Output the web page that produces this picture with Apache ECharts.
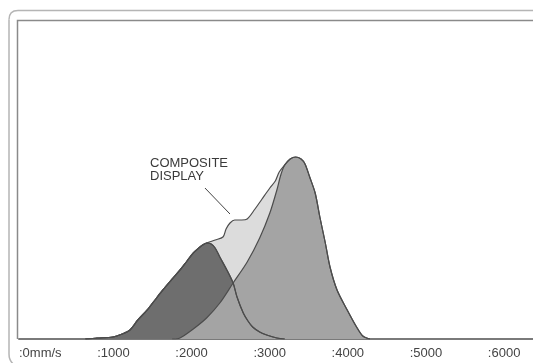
<!DOCTYPE html>
<html>
<head>
<meta charset="utf-8">
<script src="https://cdn.jsdelivr.net/npm/echarts@6/dist/echarts.min.js"></script>
<style>
html,body{margin:0;padding:0;background:#fff;overflow:hidden;}
#c{width:533px;height:363px;}
</style>
</head>
<body>
<div id="c"></div>
<script>
// Velocity (mm/s) tick labels
var tickLabels = [':0mm/s', ':1000', ':2000', ':3000', ':4000', ':5000', ':6000', ':7000'];

// Left (dark) distribution
var leftX = [850, 1000, 1200, 1320, 1420, 1520, 1640, 1740, 1840, 1960, 2060, 2150, 2230, 2300, 2350, 2400, 2460, 2510, 2570, 2660, 2740, 2790, 2870, 2930, 2990, 3080, 3170, 3300, 3400];
var leftY = [0, 1, 2, 5, 9, 19, 29, 39, 49, 60, 69, 78, 86, 91, 94, 96, 95, 91, 82, 69, 56, 42, 26, 18, 12, 7, 4, 1, 0];

// Right (medium) distribution
var rightX = [1960, 2060, 2230, 2400, 2570, 2740, 2920, 3080, 3210, 3300, 3350, 3400, 3470, 3540, 3610, 3660, 3720, 3790, 3850, 3920, 3980, 4070, 4200, 4320, 4400, 4490];
var rightY = [0, 1, 10, 21, 36, 56, 77, 101, 126, 149, 164, 174, 180, 182, 180, 175, 162, 146, 122, 96, 72, 49, 29, 12, 3, 0];

// Composite display (envelope)
var compX = [850, 1000, 1200, 1320, 1420, 1520, 1640, 1740, 1840, 1960, 2060, 2150, 2230, 2300, 2350, 2400, 2510, 2610, 2650, 2700, 2760, 2850, 2920, 3020, 3110, 3210, 3280, 3330, 3400, 3470, 3540, 3610, 3660, 3720, 3790, 3850, 3920, 3980, 4070, 4200, 4320, 4400, 4490];
var compY = [0, 1, 2, 5, 9, 19, 29, 39, 49, 60, 69, 78, 86, 91, 94, 96, 99, 102, 110, 116, 119, 119, 120, 130, 140, 151, 158, 167, 174, 180, 182, 180, 175, 162, 146, 122, 96, 72, 49, 29, 12, 3, 0];

// Annotation
var annotationText = 'COMPOSITE\nDISPLAY';
var leaderLine = [[2380, 151], [2700, 125]];

function pairs(xs, ys) { return xs.map(function (x, i) { return [x, ys[i]]; }); }

var lineCol = '#4c4c4c';
var frameOuter = { fill: 'none', stroke: '#b5b5b5', lineWidth: 1.5 };
var chart = echarts.init(document.getElementById('c'), null, { renderer: 'canvas' });
chart.setOption({
  animation: false,
  backgroundColor: '#ffffff',
  grid: { left: 19, top: 20, width: 547, bottom: 24, show: false, containLabel: false, outerBoundsMode: 'none' },
  xAxis: {
    type: 'value', min: 0, max: 7000, interval: 1000,
    axisLine: { show: true, lineStyle: { color: '#7a7a7a', width: 2 } },
    axisTick: { show: false },
    splitLine: { show: false },
    axisLabel: {
      align: 'left', margin: 8, color: '#444',
      fontFamily: 'Liberation Sans, Arial, sans-serif', fontSize: 13,
      formatter: function (v) { return tickLabels[Math.round(v / 1000)] || ''; }
    }
  },
  yAxis: { type: 'value', min: 0, max: 319, show: false, splitLine: { show: false } },
  graphic: [
    { type: 'polyline', z: -1, shape: { points: [[9, 354], [9, 19.5]] }, style: frameOuter },
    { type: 'polyline', z: -1, shape: { points: [[18, 10.5], [560, 10.5]] }, style: frameOuter },
    { type: 'bezierCurve', z: -1, shape: { x1: 9, y1: 19.5, x2: 18, y2: 10.5, cpx1: 9, cpy1: 10.5 }, style: frameOuter },
    { type: 'bezierCurve', z: -1, shape: { x1: 9, y1: 354, x2: 16, y2: 366, cpx1: 9, cpy1: 362 }, style: frameOuter },
    { type: 'polyline', z: -1, shape: { points: [[17.5, 339], [17.5, 20.5], [560, 20.5]] },
      style: { fill: 'none', stroke: '#8a8a8a', lineWidth: 1.5 } },
    { type: 'text', left: 150, top: 157,
      style: { text: annotationText, font: '13px "Liberation Sans", Arial, sans-serif', fill: '#3a3a3a', lineHeight: 13 } }
  ],
  series: [
    { type: 'line', data: pairs(compX, compY), smooth: 0.3, symbol: 'none',
      lineStyle: { color: lineCol, width: 1.2 }, areaStyle: { color: '#dcdcdc', opacity: 1 },
      markLine: { silent: true, symbol: 'none', label: { show: false },
        lineStyle: { color: '#444', width: 1, type: 'solid' },
        data: [[{ coord: leaderLine[0] }, { coord: leaderLine[1] }]] } },
    { type: 'line', data: pairs(leftX, leftY), smooth: 0.3, symbol: 'none',
      lineStyle: { color: lineCol, width: 1.2 }, areaStyle: { color: '#6e6e6e', opacity: 1 } },
    { type: 'line', data: pairs(rightX, rightY), smooth: 0.3, symbol: 'none',
      lineStyle: { color: lineCol, width: 1.2 }, areaStyle: { color: '#a4a4a4', opacity: 1 } },
    { type: 'line', data: pairs(leftX, leftY), smooth: 0.3, symbol: 'none',
      lineStyle: { color: lineCol, width: 1.1 } }
  ]
});
</script>
</body>
</html>
